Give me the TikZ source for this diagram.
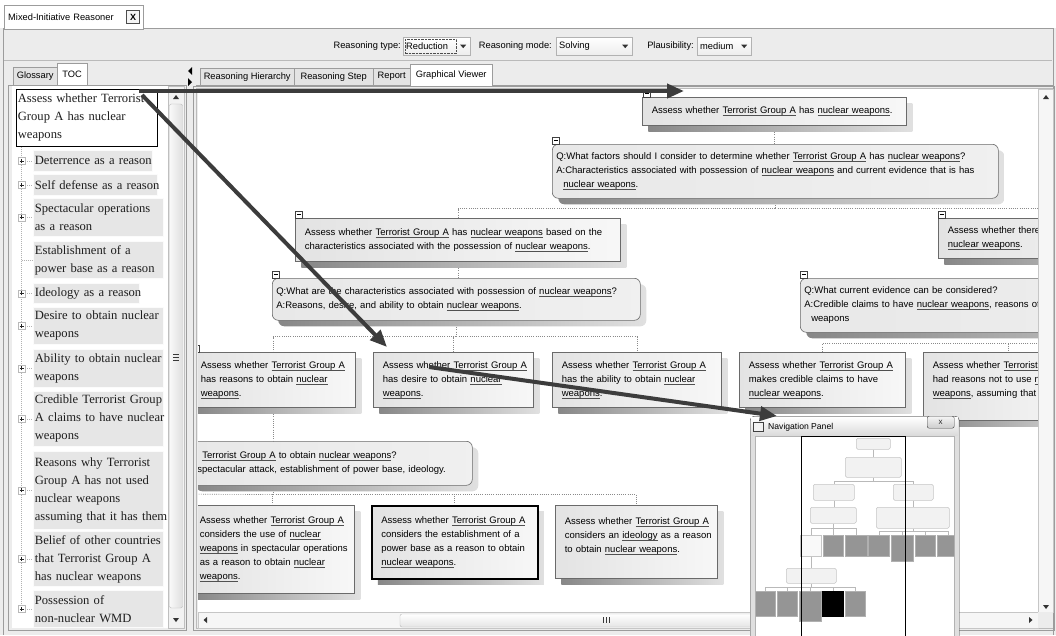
\documentclass[tikz,border=0pt]{standalone}
\usepackage{fontspec}
\setmainfont{Liberation Sans}
\newfontfamily\serifface{Liberation Serif}
\usetikzlibrary{arrows.meta,calc,shadows}

\definecolor{chrome}{HTML}{ECECEC}
\definecolor{frameline}{HTML}{9C9C9C}
\definecolor{tabbg}{HTML}{E3E3E3}
\definecolor{boxline}{HTML}{6A6A6A}
\definecolor{linkc}{HTML}{8A8A8A}
\definecolor{tocbg}{HTML}{E6E6E6}
\definecolor{tocink}{HTML}{1E1E1E}
\definecolor{arrowc}{HTML}{3C3C3C}
\definecolor{navdark}{HTML}{959595}
\definecolor{ulc}{HTML}{505050}

\newcommand\gfont{\fontsize{9.5}{14}\selectfont}
\newcommand\uifont{\fontsize{9.3}{11}\selectfont}
\newcommand\tocfont{\serifface\fontsize{12.6}{18}\selectfont}
\newcommand\ul[1]{\setbox0=\hbox{#1}\rlap{\color{ulc}\rule[-2pt]{\wd0}{0.5pt}}\box0\relax}
\newcommand\hb[1]{\mbox{#1}}

\pgfdeclarelayer{base}
\pgfdeclarelayer{links}
\pgfsetlayers{base,links,main}

\tikzset{
  gbox/.style={anchor=north west, draw=boxline, line width=0.6pt,
    left color=black!11, right color=black!3, inner xsep=9.5pt, inner ysep=0pt,
    align=left, font=\gfont,
    general shadow={shadow xshift=6pt, shadow yshift=-6pt, left color=black!47, right color=black!12}},
  qbox/.style={gbox, rounded corners=6pt, inner xsep=4pt, left color=black!9, right color=black!6},
  selbox/.style={draw=black, line width=1.5pt},
  gsz/.style 2 args={text width=#1pt, minimum height=#2pt},
  sz/.style 2 args={minimum width=#1pt, minimum height=#2pt},
  cbox/.style={anchor=south west, draw=black!75, fill=white, line width=0.5pt,
    minimum size=7pt, inner sep=0pt},
  link/.style={draw=linkc, line width=0.6pt, dash pattern=on 1pt off 1.2pt},
  tocitem/.style={anchor=north west, fill=tocbg, draw=gray!3, line width=0.8pt,
    inner xsep=1.5pt, inner ysep=0pt, align=left, font=\tocfont, text=tocink},
  expd/.style={draw=gray!55, fill=white, line width=0.5pt, minimum size=7pt, inner sep=0pt,
    path picture={\draw[gray!30!black, line width=0.5pt]
      ($(path picture bounding box.center)+(-2pt,0pt)$) -- ++(4pt,0pt)
      ($(path picture bounding box.center)+(0pt,-2pt)$) -- ++(0pt,4pt);}},
  tree/.style={draw=gray!60, line width=0.5pt, dash pattern=on 1pt off 1pt},
  tab/.style={anchor=north west, draw=frameline, fill=tabbg, inner sep=0pt,
    minimum height=17pt, font=\uifont},
  tabsel/.style={tab, fill=white, minimum height=22pt},
  combo/.style={anchor=north west, draw=gray!60, top color=white, bottom color=gray!14,
    inner xsep=3pt, inner ysep=0pt, minimum height=18pt, align=left, font=\uifont,
    path picture={\fill[black!80] ($(path picture bounding box.east)+(-10pt,1.5pt)$)
      -- ++(6pt,0pt) -- ++(-3pt,-3.5pt) -- cycle;}},
  uilabel/.style={anchor=east, inner sep=0pt, font=\uifont},
  mini/.style={anchor=north west, draw=gray!45, fill=gray!10, line width=0.5pt,
    rounded corners=1.5pt, inner sep=0pt},
  mdark/.style={anchor=north west, draw=gray!62, fill=navdark, line width=0.5pt, inner sep=0pt},
  mlink/.style={draw=gray!55, line width=0.5pt},
  bigarrow/.style={draw=arrowc, line width=4pt, -{Triangle[length=17pt,width=14pt]}},
}

\begin{document}
\begin{tikzpicture}[x=1pt,y=-1pt]
\useasboundingbox (0,0) rectangle (1056,635);
\clip (0,0) rectangle (1056,635);

% ---------- window backgrounds ----------
\begin{pgfonlayer}{base}
  \fill[chrome] (0,0) rectangle (1056,635);
  \fill[white] (0,0) rectangle (1056,28);
  \fill[white] (12,86) rectangle (168,628);
  \fill[white] (198,89) rectangle (1038,612);
\end{pgfonlayer}

% ---------- window frame and tool bar ----------
\draw[frameline] (3,28) -- (3,635) (1053,28) -- (1053,635) (143,28) -- (1053,28);
\draw[frameline!70] (4,60) -- (1052,60);
\node[tabsel, text width=131pt, inner xsep=4pt, align=left, minimum height=24pt] (tabMIR) at (4,5) {Mixed-Initiative Reasoner};
\node[draw=black!70, fill=gray!8, minimum width=13pt, minimum height=13pt, inner sep=0pt,
  font=\fontsize{9}{9}\selectfont\bfseries] (tabX) at (133,17) {X};

\node[uilabel] (lType) at (401,46) {Reasoning type:};
\node[combo, text width=61pt] (cType) at (403,37) {Reduction};
\draw[densely dotted, black!70] ($(cType.north west)+(2,2)$) rectangle ($(cType.south west)+(53,-2)$);
\node[uilabel] (lMode) at (552,46) {Reasoning mode:};
\node[combo, text width=70pt] (cMode) at (556,37) {Solving};
\node[uilabel] (lPl) at (694,46) {Plausibility:};
\node[combo, text width=48pt] (cPl) at (697,37) {medium};

% ---------- left panel (TOC) ----------
\draw[frameline] (8,85) rectangle (186,630);
\node[tab, minimum width=44pt, minimum height=18pt] (tGl) at (13,67) {Glossary};
\node[tabsel, minimum width=30pt] (tToc) at (57,63) {TOC};

% scrollbar of the list
\draw[gray!50, fill=gray!10] (168,86) rectangle (184,628);
\fill[gray!40!black] (173,99) -- (179,99) -- (176,95) -- cycle;
\draw[gray!55, left color=gray!5, right color=gray!25, rounded corners=2pt] (169.5,104) rectangle (182.5,608);
\draw[gray!45!black, line width=0.5pt] (173,354) -- (179,354) (173,357) -- (179,357) (173,360) -- (179,360);
\fill[gray!40!black] (173,618) -- (179,618) -- (176,622) -- cycle;

\node[tocitem, fill=white, draw=black, text width=138pt, minimum height=57pt] (tocA) at (16,89)
  {\hb{Assess whether Terrorist}\\\hb{Group A has nuclear}\\\hb{weapons}};
\node[tocitem, text width=116pt, minimum height=21pt] (tocB) at (33,150) {\hb{Deterrence as a reason}};
\node[tocitem, text width=121pt, minimum height=21pt] (tocC) at (33,174) {\hb{Self defense as a reason}};
\node[tocitem, text width=127pt, minimum height=38pt] (tocD) at (33,198) {\hb{Spectacular operations}\\\hb{as a reason}};
\node[tocitem, text width=127pt, minimum height=37pt] (tocE) at (33,241) {\hb{Establishment of a}\\\hb{power base as a reason}};
\node[tocitem, text width=103pt, minimum height=20pt] (tocF) at (33,283) {\hb{Ideology as a reason}};
\node[tocitem, text width=127pt, minimum height=37pt] (tocG) at (33,307) {\hb{Desire to obtain nuclear}\\\hb{weapons}};
\node[tocitem, text width=127pt, minimum height=38pt] (tocH) at (33,349) {\hb{Ability to obtain nuclear}\\\hb{weapons}};
\node[tocitem, text width=127pt, minimum height=55pt] (tocI) at (33,391) {\hb{Credible Terrorist Group}\\\hb{A claims to have nuclear}\\\hb{weapons}};
\node[tocitem, text width=127pt, minimum height=78pt] (tocJ) at (33,451) {\hb{Reasons why Terrorist}\\\hb{Group A has not used}\\\hb{nuclear weapons}\\\hb{assuming that it has them}};
\node[tocitem, text width=127pt, minimum height=55pt] (tocK) at (33,531) {\hb{Belief of other countries}\\\hb{that Terrorist Group A}\\\hb{has nuclear weapons}};
\node[tocitem, text width=127pt, minimum height=37pt] (tocL) at (33,590) {\hb{Possession of}\\\hb{non-nuclear WMD}};

\foreach \t in {B,C,D,F,G,H,I,J,K,L}
  \node[expd] (x\t) at (21.5,0 |- toc\t.west) {};

% splitter arrows
\fill (192,67) -- (192,75) -- (188,71) -- cycle;
\fill (188,78) -- (188,86) -- (192,82) -- cycle;

% ---------- right panel tabs and frame ----------
\draw[frameline] (193,86) rectangle (1054,630);
\draw[frameline!70] (196,88) rectangle (1052,628);
\draw[frameline] (196,85) -- (1053,85);
\node[tab, minimum width=94pt] (tRH) at (200,68) {Reasoning Hierarchy};
\node[tab, minimum width=79pt] (tRS) at (294,68) {Reasoning Step};
\node[tab, minimum width=37pt] (tRep) at (373,68) {Report};
\node[tabsel, minimum width=82pt] (tGV) at (410,64) {Graphical Viewer};

% ---------- reasoning tree ----------
\begin{scope}
\clip (198,89) rectangle (1038,612);
\node[gbox, gsz={245}{28}] (R) at (642,97)
  {\hb{Assess whether \ul{Terrorist Group A} has \ul{nuclear weapons}.}};
\node[qbox, gsz={438}{54}] (Q1) at (552,144)
  {\hb{Q:What factors should I consider to determine whether \ul{Terrorist Group A} has \ul{nuclear weapons}?}\\
   \hb{A:Characteristics associated with possession of \ul{nuclear weapons} and current evidence that is has}\\
   \hb{\hspace*{7pt}\ul{nuclear weapons}.}};
\node[gbox, gsz={306}{43}] (A1) at (295,218)
  {\hb{Assess whether \ul{Terrorist Group A} has \ul{nuclear weapons} based on the}\\
   \hb{characteristics associated with the possession of \ul{nuclear weapons}.}};
\node[gbox, gsz={241}{40}] (A2) at (938,218)
  {\hb{Assess whether there}\\\hb{\ul{nuclear weapons}.}};
\node[qbox, gsz={360}{42}] (Q2) at (272,278)
  {\hb{Q:What are the characteristics associated with possession of \ul{nuclear weapons}?}\\
   \hb{A:Reasons, desire, and ability to obtain \ul{nuclear weapons}.}};
\node[qbox, gsz={492}{54}] (Q4) at (800,278)
  {\hb{Q:What current evidence can be considered?}\\
   \hb{A:Credible claims to have \ul{nuclear weapons}, reasons of}\\
   \hb{\hspace*{7pt}weapons}};
\node[gbox, gsz={145}{55}] (B1) at (191,352)
  {\hb{Assess whether \ul{Terrorist Group A}}\\\hb{has reasons to obtain \ul{nuclear}}\\\hb{\ul{weapons}.}};
\node[gbox, gsz={141}{55}] (B2) at (373,352)
  {\hb{Assess whether \ul{Terrorist Group A}}\\\hb{has desire to obtain \ul{nuclear}}\\\hb{\ul{weapons}.}};
\node[gbox, gsz={150}{55}] (B3) at (552,352)
  {\hb{Assess whether \ul{Terrorist Group A}}\\\hb{has the ability to obtain \ul{nuclear}}\\\hb{\ul{weapons}.}};
\node[gbox, gsz={147}{55}] (D1) at (739,352)
  {\hb{Assess whether \ul{Terrorist Group A}}\\\hb{makes credible claims to have}\\\hb{\ul{nuclear weapons}.}};
\node[gbox, gsz={151}{68}] (D2) at (923,352)
  {\hb{Assess whether \ul{Terrorist}}\\\hb{had reasons not to use \ul{n}}\\\hb{\ul{weapons}, assuming that i}\\\hb{}};
\node[qbox, gsz={274}{44}] (Q3) at (190,441)
  {\hb{\hspace*{8pt}\ul{Terrorist Group A} to obtain \ul{nuclear weapons}?}\\
   \hb{\hspace*{3pt}spectacular attack, establishment of power base, ideology.}};
\node[gbox, gsz={145}{88}] (C1) at (190,505)
  {\hb{Assess whether \ul{Terrorist Group A}}\\\hb{considers the use of \ul{nuclear}}\\
   \hb{\ul{weapons} in spectacular operations}\\\hb{as a reason to obtain \ul{nuclear}}\\\hb{\ul{weapons}.}};
\node[gbox, selbox, gsz={147}{73}] (C2) at (371,505)
  {\hb{Assess whether \ul{Terrorist Group A}}\\\hb{considers the establishment of a}\\
   \hb{power base as a reason to obtain}\\\hb{\ul{nuclear weapons}.}};
\node[gbox, gsz={143}{73}] (C3) at (555,505)
  {\hb{Assess whether \ul{Terrorist Group A}}\\\hb{considers an \ul{ideology} as a reason}\\
   \hb{to obtain \ul{nuclear weapons}.}\\\hb{}};

\node[cbox] (cR) at ($(R.north west)+(1,0)$) {\rule{4pt}{0.6pt}};
\node[cbox] (cQ1) at (Q1.north west) {\rule{4pt}{0.6pt}};
\node[cbox] (cA1) at (A1.north west) {\rule{4pt}{0.6pt}};
\node[cbox] (cA2) at (A2.north west) {\rule{4pt}{0.6pt}};
\node[cbox] (cQ2) at (Q2.north west) {\rule{4pt}{0.6pt}};
\node[cbox] (cQ4) at (Q4.north west) {\rule{4pt}{0.6pt}};
\node[cbox] (cB1) at ($(B1.north west)+(1,0)$) {\rule{4pt}{0.6pt}};
\end{scope}

% ---------- canvas scroll bars ----------
\draw[gray!45, fill=gray!7] (1038,89) rectangle (1053,612);
\fill[gray!40!black] (1043,99) -- (1049,99) -- (1046,95) -- cycle;
\fill[gray!40!black] (1043,605) -- (1049,605) -- (1046,609) -- cycle;
\draw[gray!45, fill=gray!7] (198,612) rectangle (1038,628);
\fill[gray!40!black] (207,617) -- (207,623) -- (203.5,620) -- cycle;
\draw[gray!55, top color=white, bottom color=gray!20, rounded corners=2pt] (400,614) rectangle (820,627);
\draw[gray!45!black, line width=0.5pt] (603,617) -- (603,623) (606,617) -- (606,623) (609,617) -- (609,623);
\fill[gray!40!black] (1029,617) -- (1029,623) -- (1032.5,620) -- cycle;
\fill[gray!15] (1038,612) rectangle (1053,628);

% ---------- navigation panel ----------
\node[anchor=north west, draw=gray!50!black, fill=gray!25, rounded corners=4pt, inner sep=0pt,
  minimum width=209pt, minimum height=240pt] (nav) at (750,416) {};
\shade[top color=white, bottom color=gray!28] (751,417) rectangle (958,435);
\fill[white] (755,436) rectangle (954,650);
\draw[gray!60] (755,436) rectangle (954,650);
\node[anchor=north west, draw=gray!50!black, fill=gray!10, minimum width=10pt, minimum height=9pt,
  inner sep=0pt] (navicon) at (753,422) {};
\node[anchor=west, inner sep=0pt, font=\fontsize{8.6}{10}\selectfont] (navtitle) at (768,427) {Navigation Panel};
\node[anchor=north west, draw=gray!50!black, rounded corners=2pt, top color=gray!8, bottom color=gray!40,
  minimum width=27pt, minimum height=12pt, inner sep=0pt, text=gray!35!black,
  font=\fontsize{8}{8}\selectfont] (navclose) at (927,416) {x};

\begin{scope}
\clip (755,436) rectangle (954,640);
\node[mini, sz={34}{11}] (m1) at (856,438) {};
\node[mini, sz={56}{20}] (m2) at (845,457) {};
\node[mini, sz={41}{16}] (m3) at (813,484) {};
\node[mini, sz={40}{16}] (m4) at (893,484) {};
\node[mini, sz={46}{16}] (m5) at (810,507) {};
\node[mini, sz={73}{21}] (m6) at (876,507) {};
\node[mini, fill=gray!5, rounded corners=0pt, sz={21}{21}] (r1) at (800,535) {};
\node[mdark, sz={20}{21}] (r2) at (823,535) {};
\node[mdark, sz={22}{21}] (r3) at (845,535) {};
\node[mdark, sz={21}{21}] (r4) at (868,535) {};
\node[mdark, sz={22}{26}] (r5) at (891,535) {};
\node[mdark, sz={20}{21}] (r6) at (915,535) {};
\node[mdark, sz={21}{21}] (r7) at (937,535) {};
\node[mini, sz={50}{15}] (m7) at (786,568) {};
\node[mdark, sz={20}{25}] (s1) at (755,591) {};
\node[mdark, sz={20}{25}] (s2) at (777,591) {};
\node[mdark, sz={22}{30}] (s3) at (799,591) {};
\node[mdark, fill=black, draw=black, sz={21}{25}] (s4) at (822,591) {};
\node[mdark, sz={20}{25}] (s5) at (845,591) {};

\draw[mlink] (m1.south) -- (m2.north);
\draw[mlink] (m2.south) -- ++(0,4) coordinate (m2b);
\draw[mlink] (m2b) -| (m3.north);
\draw[mlink] (m2b) -| (m4.north);
\draw[mlink] (m3.south) -- (m3.south |- m5.north);
\draw[mlink] (m4.south) -- (m4.south |- m6.north);
\draw[mlink] (m5.south) -- ++(0,5) coordinate (m5b);
\foreach \t in {r1,r2,r3} \draw[mlink] (m5b) -| (\t.north);
\draw[mlink] (m6.south) -- ++(0,3) coordinate (m6b);
\foreach \t in {r4,r5,r6,r7} \draw[mlink] (m6b) -| (\t.north);
\draw[mlink] (r1.south) -- (r1.south |- m7.north);
\draw[mlink] (m7.south) -- ++(0,4) coordinate (m7b);
\foreach \t in {s1,s2,s3,s4,s5} \draw[mlink] (m7b) -| (\t.north);

% visible part of the canvas
\draw[black, line width=0.7pt] (801,650) -- (801,436) -- (905,436) -- (905,650);
\end{scope}

% ---------- dotted connectors (drawn beneath the boxes) ----------
\begin{pgfonlayer}{links}
\begin{scope}
\clip (198,89) rectangle (1038,612);
\draw[link] (R.south) -- (R.south |- Q1.north);
\draw[link] (Q1.south) -- ++(0,10) coordinate (q1b);
\draw[link] (q1b) -| (A1.north);
\draw[link] (q1b) -| (A2.north);
\draw[link] (A1.south) -- (A1.south |- Q2.north);
\draw[link] (Q2.south) -- ++(0,16) coordinate (q2b);
\draw[link] (q2b) -| (B1.north);
\draw[link] (q2b) -| (B2.north);
\draw[link] (q2b) -| (B3.north);
\draw[link] (B1.south) -- (B1.south |- Q3.north);
\draw[link] (Q3.south -| B1.south) -- ++(0,9) coordinate (q3b);
\coordinate (q3left) at (170,494);
\draw[link] (q3left) -- (q3b);
\draw[link] (q3b) -| (C1.north);
\draw[link] (q3b) -| (C2.north);
\draw[link] (q3b) -| (C3.north);
\draw[link] (Q4.south) -- ++(0,11) coordinate (q4b);
\draw[link] (q4b) -| (D1.north);
\draw[link] (q4b) -| (D2.north);
\end{scope}
\draw[tree] (21.5,0 |- tocA.south) -- (xL.center);
\foreach \t in {B,C,D,F,G,H,I,J,K,L}
  \draw[tree] (x\t.east) -- (toc\t.west);
\draw[tree] (21.5,0 |- tocE.west) -- (tocE.west);
\end{pgfonlayer}

% ---------- navigation arrows ----------
\coordinate (a1s) at ($(tocA.north west)+(123,2)$);
\coordinate (a1e) at ($(R.north west)+(42,-6)$);
\coordinate (a2s) at ($(tocA.north west)+(126,6)$);
\coordinate (a2e) at ($(B2.north west)+(14,-5)$);
\coordinate (a3s) at ($(B2.north west)+(56,15)$);
\coordinate (a3e) at ($(nav.north west)+(27,0)$);
\draw[bigarrow] (a1s) -- (a1e);
\draw[bigarrow] (a2s) -- (a2e);
\draw[bigarrow] (a3s) -- (a3e);
\end{tikzpicture}
\end{document}
